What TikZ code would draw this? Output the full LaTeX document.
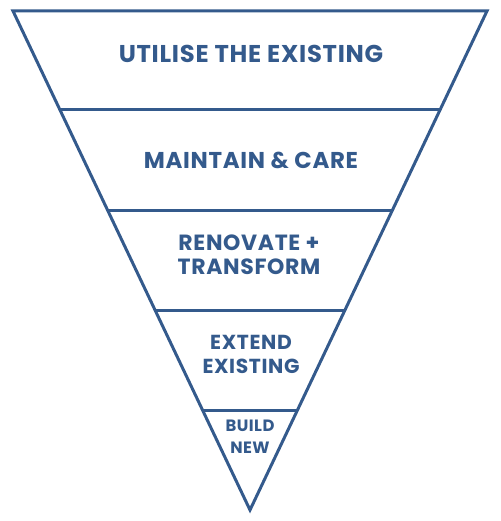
\documentclass[tikz,border=0pt]{standalone}
\usepackage{fontspec}
\setmainfont{Poppins}
\newfontfamily\pyrfont[LetterSpace=3]{Poppins}
\definecolor{pyr}{RGB}{52,90,140}
\begin{document}
\begin{tikzpicture}[x=1pt,y=-1pt,
  edge/.style={draw=pyr,line width=3pt,line join=miter},
  lbl/.style={text=pyr,align=center,inner sep=0pt}]
\useasboundingbox (0,0) rectangle (500,521);
\coordinate (tl) at (13,11);
\coordinate (tr) at (487,11);
\coordinate (ap) at (250,510);
\coordinate (la) at (60.0,110);   \coordinate (ra) at (440.0,110);
\coordinate (lb) at (107.5,210);  \coordinate (rb) at (392.5,210);
\coordinate (lc) at (155.0,310);  \coordinate (rc) at (345.0,310);
\coordinate (ld) at (202.5,410);  \coordinate (rd) at (297.5,410);
\draw[edge] (tl) -- (tr) -- (ap) -- cycle;
\draw[edge] (la) -- (ra);
\draw[edge] (lb) -- (rb);
\draw[edge] (lc) -- (rc);
\draw[edge] (ld) -- (rd);
\node[lbl,font=\pyrfont\bfseries\fontsize{24.3}{28}\selectfont] (t1) at (251,54) {UTILISE THE EXISTING};
\node[lbl,font=\pyrfont\bfseries\fontsize{22.9}{27}\selectfont] (t2) at (251,160) {MAINTAIN \& CARE};
\node[lbl,font=\pyrfont\bfseries\fontsize{22}{23.5}\selectfont] (t3) at (249,254.5) {RENOVATE +\\TRANSFORM};
\node[lbl,font=\pyrfont\bfseries\fontsize{20.3}{24}\selectfont] (t4) at (251,354) {EXTEND\\EXISTING};
\node[lbl,font=\pyrfont\bfseries\fontsize{16.4}{21.7}\selectfont] (t5) at (250,437) {BUILD\\NEW};
\end{tikzpicture}
\end{document}
